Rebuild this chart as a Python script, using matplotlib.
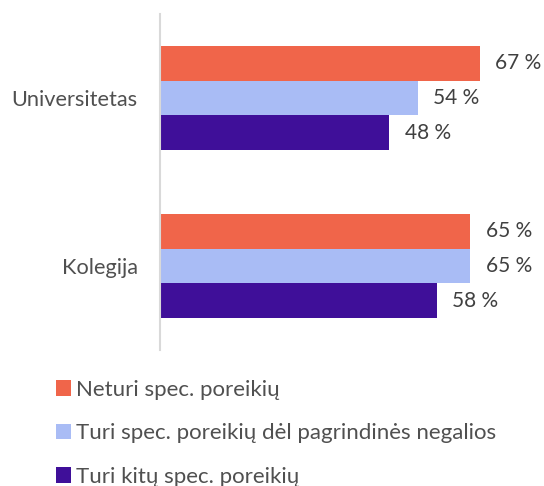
import matplotlib.pyplot as plt
import numpy as np

plt.rcParams['font.family'] = ['Lato', 'DejaVu Sans']

categories = ['Universitetas', 'Kolegija']
series = ['Neturi spec. poreikių',
          'Turi spec. poreikių dėl pagrindinės negalios',
          'Turi kitų spec. poreikių']
values = [
    [67, 65],
    [54, 65],
    [48, 58],
]
colors = ['#F0654A', '#A9BCF5', '#3F0F99']
text_color = '#505050'

fig = plt.figure(figsize=(5.44, 4.86), dpi=100)
ax = fig.add_axes([160 / 544, 1 - 350 / 486, 370 / 544, 336 / 486])

y = np.arange(len(categories))
h = 0.208
for i, (name, vals) in enumerate(zip(series, values)):
    pos = y + (i - 1) * h
    ax.barh(pos, vals, height=h, color=colors[i], label=name)
    for p, v in zip(pos, vals):
        ax.annotate(f'{v} %', (v, p), xytext=(11, 0), textcoords='offset points',
                    va='center', ha='left', fontsize=15, color='#404040')

ax.set_ylim(len(categories) - 0.5, -0.5)
ax.set_xlim(0, 370 / 4.776)
ax.set_yticks(y)
ax.set_yticklabels(categories, fontsize=15.7, color=text_color)
ax.tick_params(axis='y', length=0, pad=16)
ax.set_xticks([])
for side in ['top', 'right', 'bottom']:
    ax.spines[side].set_visible(False)
ax.spines['left'].set_color('#D9D9D9')
ax.spines['left'].set_linewidth(1.5)

fig.legend(loc='upper left', bbox_to_anchor=(49 / 544, 1 - 373 / 486),
           frameon=False, fontsize=16, handlelength=0.7, handleheight=0.7,
           handletextpad=0.2, labelspacing=1.06, labelcolor=text_color,
           borderaxespad=0, borderpad=0.3)

plt.savefig('out.png', dpi=100)
